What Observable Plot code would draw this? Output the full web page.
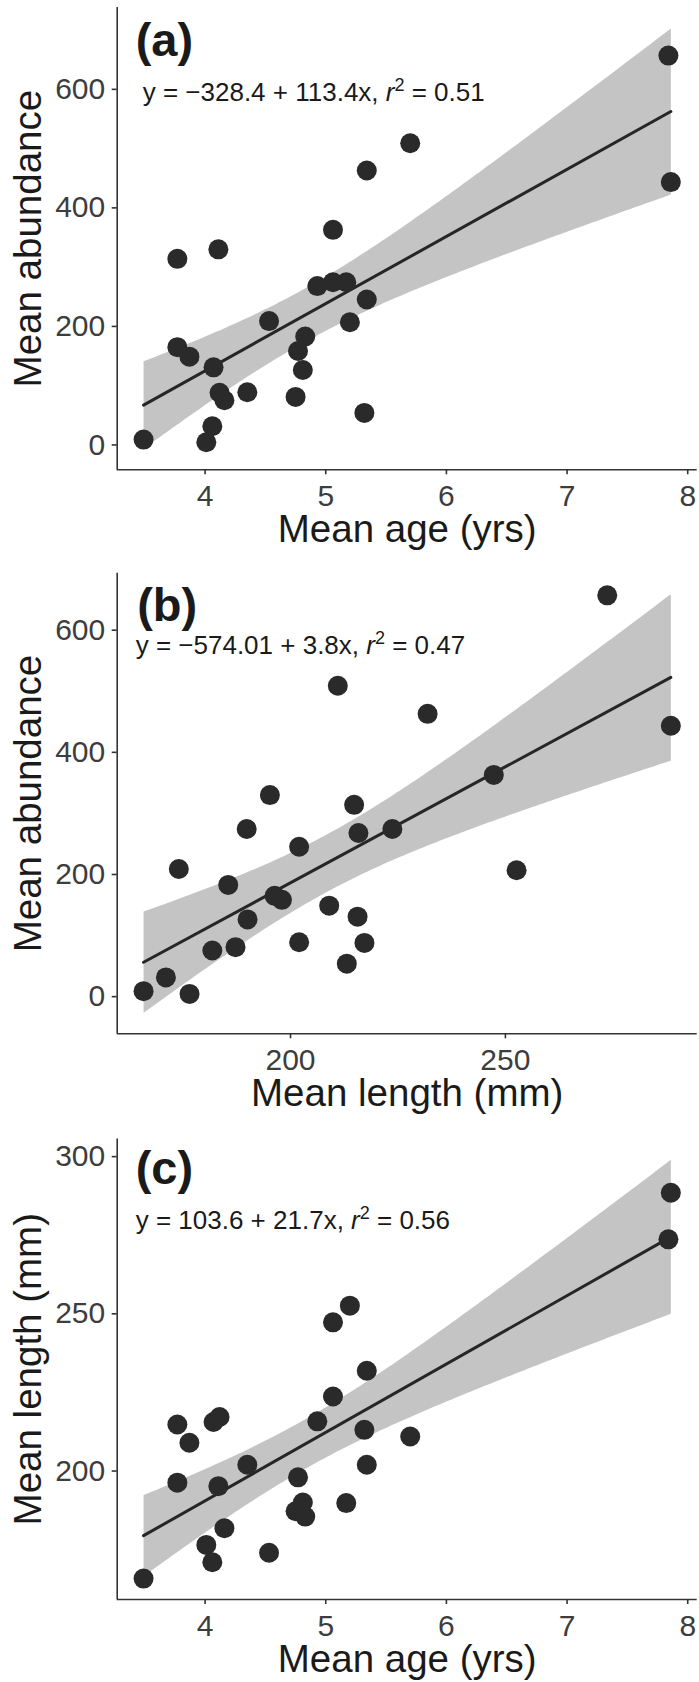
<!DOCTYPE html>
<html>
<head>
<meta charset="utf-8">
<script src="https://cdn.jsdelivr.net/npm/d3@7"></script>
<script src="https://cdn.jsdelivr.net/npm/@observablehq/plot@0.6"></script>
<style>
  body { margin: 0; background: #ffffff; }
  #chart { width: 699px; }
  #chart svg { display: block; }
</style>
</head>
<body>
<div id="chart"></div>
<script>
// ---- data (one entry per site) ----
const age = [3.49, 4.01, 4.06, 3.77, 3.87, 3.77, 4.11, 4.07, 4.12, 4.16, 4.35, 4.53, 4.75, 4.77,
             4.81, 4.83, 4.93, 5.06, 5.17, 5.20, 5.06, 5.34, 5.32, 5.34, 5.70, 7.84, 7.86];
const lengthMm = [165.8, 176.5, 171.0, 196.3, 209.0, 214.8, 195.2, 215.6, 217.2, 181.8, 202.0, 174.0, 187.2, 198.0,
                  190.0, 185.5, 215.8, 223.7, 189.8, 252.6, 247.3, 202.0, 213.1, 231.9, 211.0, 273.7, 288.5];
const abundance = [9, 4.5, 31.5, 165, 149, 314, 330, 131, 88, 75.5, 89, 209, 81, 158.5,
                   126.5, 183, 268, 274.5, 274.5, 207, 363, 245.5, 54, 463, 509, 657, 443.5];

// ---- tick labels and texts ----
const ageTicks = [4, 5, 6, 7, 8];
const lengthTicks = [200, 250];
const abundanceTicks = [0, 200, 400, 600];
const lengthYTicks = [200, 250, 300];
const panelLabels = ["(a)", "(b)", "(c)"];
const equations = ["y = \u2212328.4 + 113.4x, ", "y = \u2212574.01 + 3.8x, ", "y = 103.6 + 21.7x, "];
const rSquared = ["0.51", "0.47", "0.56"];
const xTitles = ["Mean age (yrs)", "Mean length (mm)", "Mean age (yrs)"];
const yTitles = ["Mean abundance", "Mean abundance", "Mean length (mm)"];

const rows = age.map((a, i) => ({age: a, length: lengthMm[i], abundance: abundance[i]}));

const FONT = "'Liberation Sans', Arial, Helvetica, sans-serif";
const T975 = 2.0595; // Student t quantile, df = n - 2 = 25

// y-extent of points plus the 95% confidence band (as ggplot trains the scale)
function fitExtent(xs, ys) {
  const n = xs.length, mx = d3.mean(xs), my = d3.mean(ys);
  let sxx = 0, sxy = 0;
  for (let i = 0; i < n; i++) { sxx += (xs[i] - mx) ** 2; sxy += (xs[i] - mx) * (ys[i] - my); }
  const b = sxy / sxx, a = my - b * mx;
  const sse = d3.sum(xs, (x, i) => (ys[i] - a - b * x) ** 2);
  const s = Math.sqrt(sse / (n - 2));
  let lo = d3.min(ys), hi = d3.max(ys);
  for (const x0 of d3.extent(xs)) {
    const f = a + b * x0, h = T975 * s * Math.sqrt(1 / n + (x0 - mx) ** 2 / sxx);
    lo = Math.min(lo, f - h); hi = Math.max(hi, f + h);
  }
  return [lo, hi];
}
const expand = ([a, b]) => { const d = (b - a) * 0.05; return [a - d, b + d]; };

function panel(k, cfg) {
  const xs = rows.map(d => d[cfg.x]), ys = rows.map(d => d[cfg.y]);
  const xDom = expand(d3.extent(xs));
  const yDom = expand(fitExtent(xs, ys));
  const eqText = equations[k];
  const svg = Plot.plot({
    width: 699,
    height: cfg.height,
    marginLeft: 116.7,
    marginRight: 2.3,
    marginTop: cfg.mt,
    marginBottom: cfg.mb,
    style: {fontFamily: FONT, background: "#ffffff", overflow: "visible"},
    x: {domain: xDom},
    y: {domain: yDom},
    marks: [
      Plot.linearRegressionY(rows, {x: cfg.x, y: cfg.y, stroke: "#262626", strokeWidth: 3,
                                    fill: "#c4c4c4", fillOpacity: 1}),
      Plot.dot(rows, {x: cfg.x, y: cfg.y, r: 10, fill: "#2a2a2a", stroke: null}),
      Plot.ruleX([xDom[0]], {stroke: "#333333", strokeWidth: 1.6}),
      Plot.ruleY([yDom[0]], {stroke: "#333333", strokeWidth: 1.6}),
      Plot.axisX({ticks: cfg.xTicks, tickFormat: d => String(d), tickSize: 5, tickPadding: 10,
                  fontSize: 30, label: null, stroke: "#333333", strokeWidth: 1.6, fill: "#3d3d3d"}),
      Plot.axisY({ticks: cfg.yTicks, tickFormat: d => String(d), tickSize: 5, tickPadding: 7,
                  fontSize: 30, label: null, stroke: "#333333", strokeWidth: 1.6, fill: "#3d3d3d"}),
      Plot.text([xTitles[k]], {text: d => d, frameAnchor: "bottom", dy: 72.4, lineAnchor: "bottom",
                               textAnchor: "middle", fontSize: 38.5, fill: "#1a1a1a"}),
      Plot.text([yTitles[k]], {text: d => d, frameAnchor: "left", dx: -88.5, rotate: -90,
                               textAnchor: "middle", lineAnchor: "middle", fontSize: 38.5, fill: "#1a1a1a"}),
      Plot.text([panelLabels[k]], {text: d => d, frameAnchor: "top-left", dx: cfg.labDx, dy: cfg.labDy,
                                   lineAnchor: "bottom", textAnchor: "start", fontSize: 47,
                                   fontWeight: "bold", fill: "#1a1a1a"}),
      Plot.text([eqText], {text: d => d, frameAnchor: "top-left", dx: cfg.eqDx, dy: cfg.eqDy,
                           lineAnchor: "bottom", textAnchor: "start", fontSize: 26, fill: "#1a1a1a"})
    ]
  });
  // rich text for the equation: italic r with superscript 2
  d3.select(svg).selectAll("text").filter(function () { return this.textContent === eqText; })
    .each(function () {
      const t = d3.select(this).style("white-space", "pre");
      t.text(null);
      t.append("tspan").text(eqText);
      t.append("tspan").style("font-style", "italic").text("r");
      t.append("tspan").attr("dy", -10).style("font-size", "18px").text("2");
      t.append("tspan").attr("dy", 10).text(" = " + rSquared[k]);
    });
  return svg;
}

const chart = document.getElementById("chart");
chart.appendChild(panel(0, {x: "age", y: "abundance", xTicks: ageTicks, yTicks: abundanceTicks,
  height: 561, mt: 7, mb: 91.7, labDx: 18.5, labDy: 48.5, eqDx: 25.5, eqDy: 93}));
chart.appendChild(panel(1, {x: "length", y: "abundance", xTicks: lengthTicks, yTicks: abundanceTicks,
  height: 561, mt: 11.7, mb: 88.7, labDx: 20, labDy: 47.5, eqDx: 18.5, eqDy: 80.5}));
chart.appendChild(panel(2, {x: "age", y: "length", xTicks: ageTicks, yTicks: lengthYTicks,
  height: 560, mt: 16.4, mb: 83, labDx: 18.5, labDy: 45, eqDx: 18.5, eqDy: 90}));
</script>
</body>
</html>
